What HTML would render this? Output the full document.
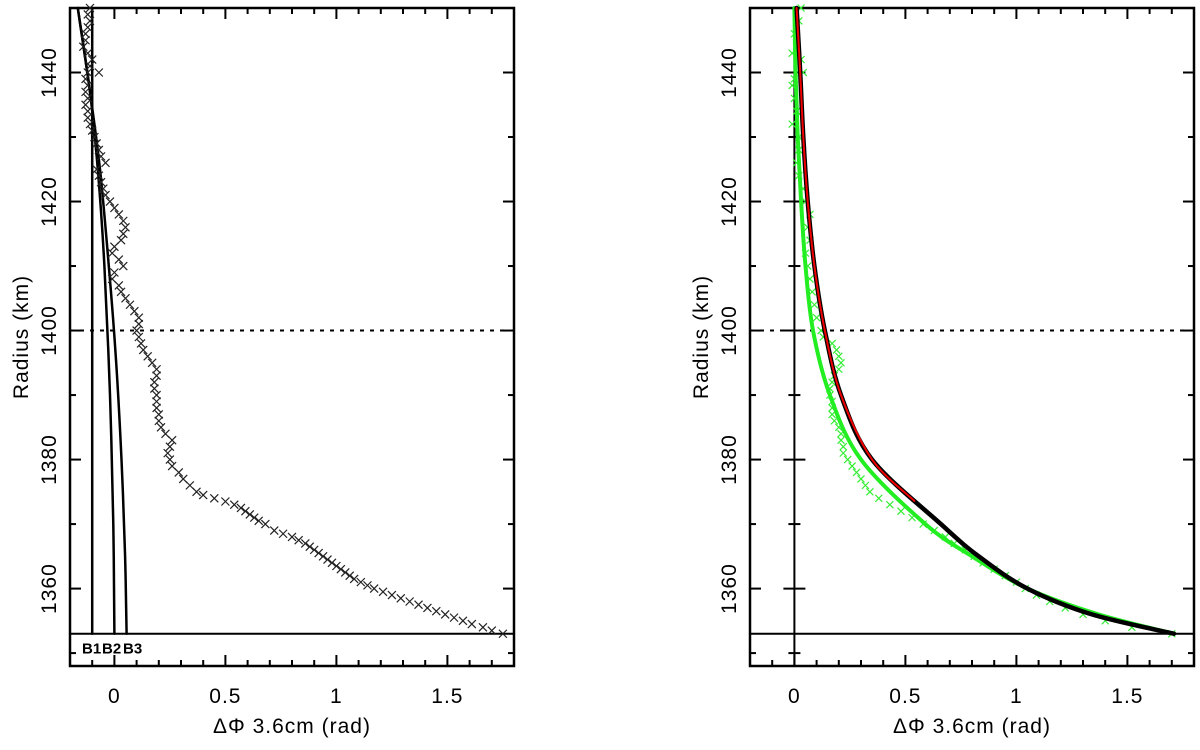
<!DOCTYPE html>
<html><head><meta charset="utf-8"><style>
body{margin:0;background:#fff;}
svg text{font-family:"Liberation Sans","DejaVu Sans",sans-serif;}
</style></head><body>
<svg id="chart" width="1200" height="745" xmlns="http://www.w3.org/2000/svg"></svg>
<script>
// ---- data ----
const xTicks = [0, 0.5, 1, 1.5];
const xTickLabels = ["0", "0.5", "1", "1.5"];
const yTicks = [1360, 1380, 1400, 1420, 1440];
const yTickLabels = ["1360", "1380", "1400", "1420", "1440"];
const surfaceRadius = 1353;
const refRadius = 1400;
// left panel: measured crosses
const leftObsR = [1450,1449,1448,1447,1446,1445,1444,1443,1442,1441,1440,1440,1439,1438,1437,1436,1435,1434,1433,1432,1431,1430,1429,1428,1427,1426,1425,1424,1423,1422,1421,1420,1419,1418,1417,1416,1415,1414,1413,1412,1411,1410,1409,1408,1407,1406,1405,1404,1403,1402,1401,1400,1399,1398,1397,1396,1395,1394,1393,1392,1391,1390,1389,1388,1387,1386,1385,1384,1383,1382,1381,1380,1379,1378,1377,1376,1375,1374.5,1374,1373.5,1373,1372.5,1372,1371.5,1371,1370.5,1370,1369,1368.5,1368,1367.5,1367,1366.5,1366,1365.5,1365,1364.5,1364,1363.5,1363,1362.5,1362,1361.5,1361,1360.5,1360,1359.5,1359,1358.5,1358,1357.5,1357,1356.5,1356,1355.5,1355,1354.5,1354,1353.5,1353];
const leftObsPhi = [-0.11,-0.12,-0.11,-0.12,-0.13,-0.13,-0.14,-0.12,-0.10,-0.11,-0.07,-0.12,-0.13,-0.12,-0.13,-0.12,-0.13,-0.12,-0.12,-0.11,-0.10,-0.09,-0.08,-0.07,-0.06,-0.04,-0.08,-0.07,-0.06,-0.05,-0.04,-0.02,0.0,0.02,0.04,0.05,0.04,0.03,0.0,-0.01,0.02,0.04,0.0,-0.01,0.02,0.03,0.05,0.07,0.09,0.11,0.11,0.10,0.11,0.12,0.13,0.15,0.17,0.19,0.19,0.18,0.18,0.19,0.19,0.19,0.20,0.20,0.21,0.23,0.26,0.25,0.24,0.25,0.26,0.29,0.31,0.34,0.37,0.40,0.45,0.50,0.54,0.57,0.59,0.61,0.63,0.65,0.68,0.72,0.76,0.80,0.83,0.86,0.88,0.90,0.92,0.94,0.96,0.98,1.00,1.02,1.04,1.06,1.08,1.11,1.14,1.17,1.21,1.25,1.29,1.33,1.37,1.41,1.45,1.49,1.53,1.57,1.61,1.66,1.70,1.75];
// left panel model curves
const b1R = [1353,1450];
const b1Phi = [-0.1,-0.1];
const b2R = [1353,1370,1390,1410,1425,1437,1450];
const b2Phi = [0.0,-0.005,-0.02,-0.045,-0.075,-0.11,-0.165];
const b3R = [1353,1365,1380,1395,1410,1425,1437,1450];
const b3Phi = [0.055,0.048,0.032,0.008,-0.025,-0.065,-0.11,-0.165];
const bLabels = ["B1","B2","B3"];
// right panel
const rightObsR = [1450,1448,1446,1444,1443,1442,1440,1439,1438,1436,1434,1432,1430,1428,1426,1424,1422,1420,1418,1416,1414,1412,1410,1408,1406,1404,1402,1400,1399,1398,1397,1396,1395,1394,1393,1392,1391,1390,1389,1388,1387,1386,1385,1384,1383,1382,1381,1380,1379,1378,1377,1376,1375,1374,1373,1372,1371,1370,1369,1368,1367,1366,1365,1364,1363,1362,1361,1360,1359,1358,1357,1356,1355,1354,1353];
const rightObsPhi = [0.03,0.02,0.0,0.01,-0.01,0.03,0.04,0.0,-0.01,0.0,0.01,-0.01,0.02,0.02,0.01,0.02,0.04,0.05,0.07,0.06,0.07,0.05,0.06,0.07,0.08,0.09,0.10,0.12,0.13,0.17,0.19,0.20,0.21,0.20,0.18,0.17,0.16,0.16,0.17,0.17,0.17,0.18,0.20,0.21,0.21,0.22,0.22,0.24,0.26,0.28,0.30,0.32,0.34,0.38,0.43,0.48,0.53,0.58,0.63,0.68,0.72,0.77,0.81,0.85,0.90,0.95,1.00,1.04,1.09,1.15,1.22,1.30,1.40,1.52,1.70];
const greenFitR = [1450,1440,1430,1420,1410,1400,1390,1380,1370,1365,1360,1356,1353];
const greenFitPhi = [0.0,0.005,0.015,0.03,0.05,0.084,0.16,0.30,0.59,0.80,1.05,1.37,1.71];
const blackFitR = [1450,1440,1430,1420,1410,1400,1390,1380,1370,1365,1360,1356,1353];
const blackFitPhi = [0.01,0.026,0.04,0.06,0.09,0.137,0.21,0.35,0.66,0.83,1.05,1.34,1.71];
const redFitR = [1450,1440,1430,1420,1410,1400,1390,1380,1373.6];
const redFitPhi = [0.01,0.026,0.04,0.06,0.09,0.137,0.21,0.35,0.54];

// ---- drawing ----
const svg = document.getElementById('chart');
const NS = 'http://www.w3.org/2000/svg';
function mk(tag, attrs, parent){const e=document.createElementNS(NS,tag);for(const k in attrs)e.setAttribute(k,attrs[k]);(parent||svg).appendChild(e);return e;}
const Y0=1348, Y1=1450, X0=-0.2, X1=1.8, TOP=8, BOT=666;
const yS = r => BOT - (r-Y0)/(Y1-Y0)*(BOT-TOP);

function panel(name, L, R){
  const g = mk('g',{});
  
  
  const xS = v => L + (v-X0)/(X1-X0)*(R-L);
  const dl = mk('line',{x1:L,x2:R,y1:yS(refRadius),y2:yS(refRadius),stroke:'#000','stroke-width':2,'stroke-dasharray':'4,6'},g);
  
  
  const sl = mk('line',{x1:L,x2:R,y1:yS(surfaceRadius),y2:yS(surfaceRadius),stroke:'#000','stroke-width':2},g);
  
  
  for(let i=-2;i<=18;i++){const v=i/10;const maj=(i%5===0);const L2=maj?11:6;const x=xS(v);
    mk('line',{x1:x,x2:x,y1:BOT,y2:BOT-L2,stroke:'#000','stroke-width':2},g);
    mk('line',{x1:x,x2:x,y1:TOP,y2:TOP+L2,stroke:'#000','stroke-width':2},g);}
  for(let r=1350;r<=1450;r+=10){const maj=((r-1360)%20===0);const L2=maj?11:6;const y=yS(r);
    mk('line',{x1:L,x2:L+L2,y1:y,y2:y,stroke:'#000','stroke-width':2},g);
    mk('line',{x1:R,x2:R-L2,y1:y,y2:y,stroke:'#000','stroke-width':2},g);}
  mk('rect',{x:L,y:TOP,width:R-L,height:BOT-TOP,fill:'none',stroke:'#000','stroke-width':2.5},g);
  xTicks.forEach((v,i)=>{const t=mk('text',{x:xS(v),y:BOT+37,'font-size':21,'text-anchor':'middle','letter-spacing':1},g);t.textContent=xTickLabels[i];
    
    });
  yTicks.forEach((v,i)=>{const y=yS(v);const t=mk('text',{x:L-14,y:y,'font-size':21,'text-anchor':'middle','letter-spacing':1,transform:`rotate(-90 ${L-14} ${y})`},g);t.textContent=yTickLabels[i];
    
    });
  const xt = mk('text',{x:(L+R)/2,y:BOT+67,'font-size':21,'text-anchor':'middle','letter-spacing':1},g);
  xt.textContent='\u0394\u03a6  3.6cm  (rad)';
  
  
  const yc=(TOP+BOT)/2;
  const yt = mk('text',{x:L-42,y:yc,'font-size':21,'text-anchor':'middle','letter-spacing':1,transform:`rotate(-90 ${L-42} ${yc})`},g);
  yt.textContent='Radius (km)';
  
  
  return {g,xS};
}
function crosses(g,xS,phis,rs,color,sz,name){
  const cg = mk('g',{stroke:color,'stroke-width':1.2},g);
  
  
  rs.forEach((r,i)=>{const x=xS(phis[i]),y=yS(r);
    mk('path',{d:`M${x-sz} ${y-sz}L${x+sz} ${y+sz}M${x-sz} ${y+sz}L${x+sz} ${y-sz}`},cg);});
}
function curve(g,xS,phis,rs,color,w,name){
  const P = rs.map((r,i)=>[xS(phis[i]),yS(r)]);
  let d = 'M'+P[0][0].toFixed(1)+' '+P[0][1].toFixed(1);
  for(let i=0;i<P.length-1;i++){
    const p0=P[Math.max(0,i-1)],p1=P[i],p2=P[i+1],p3=P[Math.min(P.length-1,i+2)];
    const c1=[p1[0]+(p2[0]-p0[0])/6,p1[1]+(p2[1]-p0[1])/6];
    const c2=[p2[0]-(p3[0]-p1[0])/6,p2[1]-(p3[1]-p1[1])/6];
    d+=`C${c1[0].toFixed(1)} ${c1[1].toFixed(1)} ${c2[0].toFixed(1)} ${c2[1].toFixed(1)} ${p2[0].toFixed(1)} ${p2[1].toFixed(1)}`;
  }
  const p = mk('path',{d,fill:'none',stroke:color,'stroke-width':w,'stroke-linejoin':'round','stroke-linecap':'round'},g);
  
  
}
// left panel
const P1 = panel('left-panel',70,514);
curve(P1.g,P1.xS,b1Phi,b1R,'#000',2.5,'b1-curve');
curve(P1.g,P1.xS,b2Phi,b2R,'#000',2.5,'b2-curve');
curve(P1.g,P1.xS,b3Phi,b3R,'#000',2.5,'b3-curve');
crosses(P1.g,P1.xS,leftObsPhi,leftObsR,'#222',4,'observed-phase-points');
[82,102,123].forEach((x,i)=>{
  const t=mk('text',{x:x,y:yS(surfaceRadius)+20,'font-size':15,'font-weight':'bold'},P1.g);
  t.textContent=bLabels[i];
  
  
});
// right panel
const P2 = panel('right-panel',750,1194);
const zl = mk('line',{x1:P2.xS(0),x2:P2.xS(0),y1:TOP,y2:BOT,stroke:'#000','stroke-width':2},P2.g);


for(let r=1350;r<=1450;r+=10){const maj=((r-1360)%20===0);const L2=maj?11:6;const x=P2.xS(0),y=yS(r);
  mk('line',{x1:x-L2,x2:x+L2,y1:y,y2:y,stroke:'#000','stroke-width':2},P2.g);}
crosses(P2.g,P2.xS,rightObsPhi,rightObsR,'#33ee33',3.5,'observed-phase-points-green');
curve(P2.g,P2.xS,greenFitPhi,greenFitR,'#22ee22',4,'green-fit-curve');
curve(P2.g,P2.xS,blackFitPhi,blackFitR,'#000',4.5,'black-fit-curve');
curve(P2.g,P2.xS,redFitPhi,redFitR,'#ee0000',2,'red-fit-curve');
</script>
</body></html>
